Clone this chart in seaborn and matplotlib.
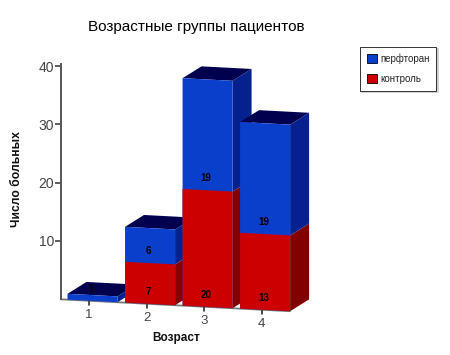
import numpy as np
import matplotlib
matplotlib.use("Agg")
import matplotlib.pyplot as plt
import seaborn as sns
from matplotlib.patches import Patch, Polygon
from matplotlib.transforms import Affine2D

ages = ["1", "2", "3", "4"]
control = [0, 7, 20, 13]
perftoran = [1, 6, 19, 19]
y_ticks = [10, 20, 30, 40]

BLUE = ["#0a3fcc", "#04218f", "#00004f"]   # front, side, top
RED = ["#cc0000", "#820000"]
DEPTH_X, DEPTH_Y = 0.33, 2.2
SLOPE = 0.052

sns.set_theme(style="white")
plt.rcParams["font.family"] = ["Liberation Sans", "DejaVu Sans"]

fig = plt.figure(figsize=(4.5, 3.55), dpi=100)
ax = fig.add_axes([61 / 450, 1 - 299.3 / 355, 234 / 450, 235 / 355])

totals = np.array(control) + np.array(perftoran)

# stacked bars: totals behind, control in front
sns.barplot(x=ages, y=totals, color=BLUE[0], saturation=1, width=0.87, ax=ax)
sns.barplot(x=ages, y=control, color=RED[0], saturation=1, width=0.87, ax=ax)
ax.set_xlim(-0.548, 3.52)
ax.set_ylim(0, 40.3)

# whole chart leans downwards to the right
x0, y0 = ax.transData.transform((-0.548, 0))
lean = Affine2D().translate(-x0, -y0).skew(0, -np.arctan(SLOPE)).translate(x0, y0)
trans = ax.transData + lean

n = len(ages)
for i, (blue_bar, red_bar) in enumerate(zip(ax.patches[:n], ax.patches[n:])):
    z = 3 + i
    left, right = blue_bar.get_x(), blue_bar.get_x() + blue_bar.get_width()
    for bar in (blue_bar, red_bar):
        bar.set_transform(trans)
        bar.set_clip_on(False)
        bar.set_linewidth(0)
    blue_bar.set_zorder(z + 0.1)
    red_bar.set_zorder(z + 0.2)

    # side faces
    for low, high, col in [(0, control[i], RED[1]), (control[i], totals[i], BLUE[1])]:
        if high > low:
            ax.add_patch(Polygon(
                [(right, low), (right + DEPTH_X, low + DEPTH_Y),
                 (right + DEPTH_X, high + DEPTH_Y), (right, high)],
                facecolor=col, lw=0, transform=trans, clip_on=False, zorder=z))
    # top face
    ax.add_patch(Polygon(
        [(left, totals[i]), (right, totals[i]),
         (right + DEPTH_X, totals[i] + DEPTH_Y), (left + DEPTH_X, totals[i] + DEPTH_Y)],
        facecolor=BLUE[2], lw=0, transform=trans, clip_on=False, zorder=z))

    # value labels sit just above the bottom of each segment
    centre = i - 0.03
    if control[i] > 0:
        ax.text(centre, 2.05, str(control[i]), transform=trans, ha="center", va="center",
                fontsize=7, fontweight="bold", color="black", zorder=20)
    ax.text(centre, control[i] + 2.05, str(perftoran[i]), transform=trans, ha="center", va="center",
            fontsize=7, fontweight="bold", color="black", zorder=20)

# axes
sns.despine(ax=ax, bottom=True)
ax.spines["left"].set_color("#555555")
ax.spines["left"].set_linewidth(1.4)
ax.set_yticks(y_ticks)
ax.tick_params(axis="y", left=True, length=4, width=1.2, color="#444444",
               labelsize=10, labelcolor="#444444", pad=1)
ax.set_xticks([])
ax.set_xlabel("")
ax.plot([-0.548, 3.43], [0, 0], color="#777777", lw=1.3, transform=trans, clip_on=False, zorder=2)
for i, age in enumerate(ages):
    ax.plot([i - 0.06, i - 0.06], [0, -0.8], color="#333333", lw=1.2, transform=trans,
            clip_on=False, zorder=2)
    ax.text(i - 0.06, -2.5, age, transform=trans, ha="center", va="center",
            fontsize=9.5, color="#444444")

fig.text(176 / 450, 1 - 338 / 355, "Возраст", ha="center", va="center",
         fontsize=8.5, fontweight="bold", color="#111111")
fig.text(17 / 450, 1 - 179 / 355, "Число больных", rotation=90, ha="center", va="center",
         fontsize=8.7, fontweight="bold", color="#111111")
fig.text(196 / 450, 1 - 27.5 / 355, "Возрастные группы пациентов", ha="center", va="center",
         fontsize=11, color="black")

handles = [Patch(facecolor=BLUE[0], edgecolor="black", lw=0.6, label="перфторан"),
           Patch(facecolor=RED[0], edgecolor="black", lw=0.6, label="контроль")]
ax.legend(handles=handles, loc="upper left", bbox_to_anchor=(360 / 450, 1 - 47 / 355),
          bbox_transform=fig.transFigure, fontsize=7, frameon=True, fancybox=False,
          edgecolor="#333333", framealpha=1, borderaxespad=0, borderpad=0.7, handlelength=1.05,
          handleheight=1.05, handletextpad=0.3, labelspacing=1.0,
          shadow={"ox": 1, "oy": -1, "facecolor": "#cccccc", "edgecolor": "#cccccc",
                  "alpha": 1, "lw": 0.5}).get_frame().set_linewidth(0.7)

fig.savefig("out.png", dpi=100, facecolor="white")
